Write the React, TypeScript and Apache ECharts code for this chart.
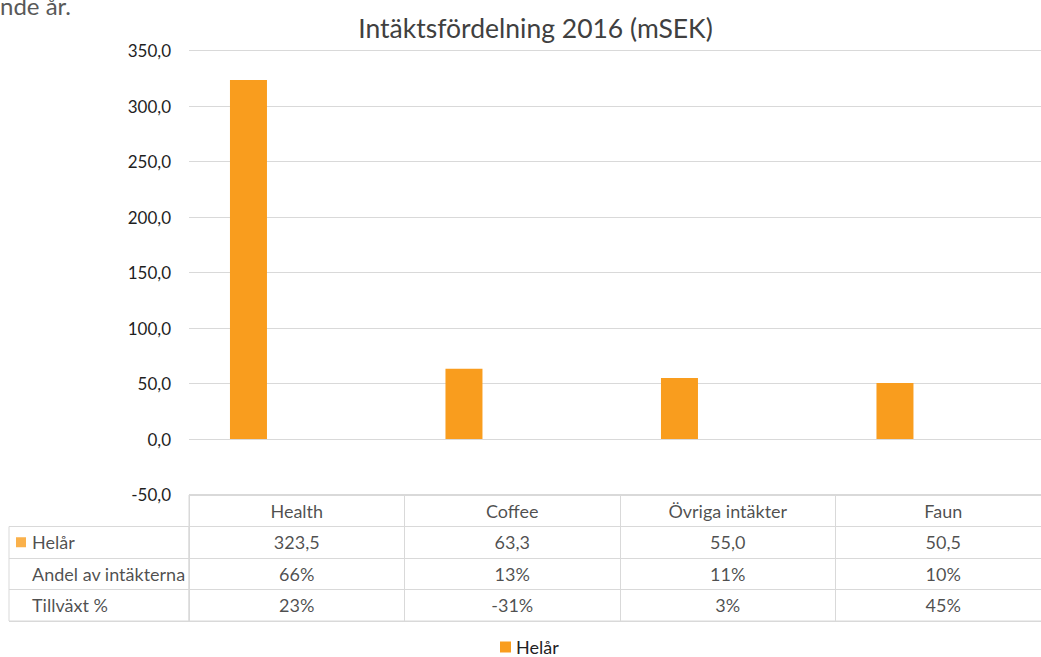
import React, { useEffect, useRef } from 'react';
import * as echarts from 'echarts';

const titleText = 'Intäktsfördelning 2016 (mSEK)';
const fragmentText = 'nde år.';
const categories = ['Health', 'Coffee', 'Övriga intäkter', 'Faun'];
const seriesName = 'Helår';
const helar = [323.5, 63.3, 55.0, 50.5];
const andel = ['66%', '13%', '11%', '10%'];
const tillvaxt = ['23%', '-31%', '3%', '45%'];
const rowLabels = ['Helår', 'Andel av intäkterna', 'Tillväxt %'];
const headRow = 'head';
const yMin = -50;
const yMax = 350;
const yInterval = 50;

const FONT = 'Lato, "Open Sans", sans-serif';
const TXT = '#1f1f1f';
const LINE = '#d9d9d9';
const ORANGE = '#F99D1E';

const fmt = (v: number) => v.toFixed(1).replace('.', ',');

export default function App() {
  const ref = useRef<HTMLDivElement>(null);
  useEffect(() => {
    document.body.style.margin = '0';
    document.body.style.overflow = 'hidden';
    if (!ref.current) return;
    const chart = echarts.init(ref.current, null, { renderer: 'svg' });

    const tableRows = [headRow, ...rowLabels];
    const cells: any[] = [];
    categories.forEach((c, i) => {
      cells.push([c, headRow, c]);
      cells.push([c, rowLabels[0], fmt(helar[i])]);
      cells.push([c, rowLabels[1], andel[i]]);
      cells.push([c, rowLabels[2], tillvaxt[i]]);
    });

    const option: any = {
      animation: false,
      backgroundColor: '#ffffff',
      textStyle: { fontFamily: FONT },
      graphic: [
        {
          type: 'text',
          style: { text: fragmentText, x: 0, y: 5, verticalAlign: 'middle', font: '24px ' + FONT, fill: '#595959' },
        },
        {
          type: 'text',
          style: { text: titleText, x: 535.5, y: 27.5, textAlign: 'center', verticalAlign: 'middle', font: '26.5px ' + FONT, fill: '#404040' },
        },
      ],
      legend: {
        data: [seriesName],
        left: 500,
        top: 638,
        padding: 0,
        icon: 'rect',
        itemWidth: 11,
        itemHeight: 11,
        itemGap: 5,
        textStyle: { fontSize: 18, color: TXT, fontFamily: FONT },
      },
      grid: [
        { left: 189, width: 862, top: 50.7, height: 443.8, outerBoundsMode: 'none', containLabel: false },
        { left: 189, width: 862, top: 495, height: 126, show: true, borderColor: LINE, borderWidth: 1, outerBoundsMode: 'none', containLabel: false },
        { left: 9, width: 180, top: 526.5, height: 94.5, show: true, borderColor: LINE, borderWidth: 1, outerBoundsMode: 'none', containLabel: false },
      ],
      xAxis: [
        { type: 'category', gridIndex: 0, data: categories, axisLine: { show: false }, axisTick: { show: false }, axisLabel: { show: false } },
        {
          type: 'category', gridIndex: 1, data: categories,
          axisLine: { show: false }, axisTick: { show: false }, axisLabel: { show: false },
          splitLine: { show: true, interval: 0, lineStyle: { color: LINE, width: 1 } },
        },
        { type: 'value', gridIndex: 2, min: 0, max: 1, show: false },
      ],
      yAxis: [
        {
          type: 'value', gridIndex: 0, min: yMin, max: yMax, interval: yInterval,
          axisLine: { show: false }, axisTick: { show: false },
          axisLabel: { formatter: (v: number) => fmt(v), color: TXT, fontSize: 17, margin: 18, fontFamily: FONT },
          splitLine: { show: true, lineStyle: { color: LINE, width: 1 } },
        },
        {
          type: 'category', gridIndex: 1, data: tableRows, inverse: true,
          axisLine: { show: false }, axisTick: { show: false }, axisLabel: { show: false },
          splitLine: { show: true, interval: 0, lineStyle: { color: LINE, width: 1 } },
        },
        {
          type: 'category', gridIndex: 2, data: rowLabels, inverse: true,
          axisLine: { show: false }, axisTick: { show: false }, axisLabel: { show: false },
          splitLine: { show: true, interval: 0, lineStyle: { color: LINE, width: 1 } },
        },
      ],
      series: [
        {
          name: seriesName, type: 'bar', xAxisIndex: 0, yAxisIndex: 0,
          data: helar, barWidth: 37, barGap: '161%',
          itemStyle: { color: ORANGE },
        },
        {
          name: 'placeholder', type: 'bar', xAxisIndex: 0, yAxisIndex: 0,
          data: categories.map(() => null), barWidth: 37,
          itemStyle: { color: 'transparent' }, silent: true,
        },
        {
          type: 'scatter', xAxisIndex: 1, yAxisIndex: 1, symbolSize: 0, silent: true,
          data: cells,
          label: {
            show: true, position: 'inside', formatter: (p: any) => p.value[2],
            color: TXT, fontSize: 18, fontFamily: FONT,
          },
        },
        {
          type: 'scatter', xAxisIndex: 2, yAxisIndex: 2, symbolSize: 0, silent: true,
          data: rowLabels.map((r) => [0, r]),
          label: {
            show: true, position: 'right', distance: 7,
            formatter: (p: any) => (p.dataIndex === 0 ? '{m|}{t|' + p.value[1] + '}' : '{u|' + p.value[1] + '}'),
            rich: {
              m: { width: 10, height: 10, backgroundColor: ORANGE, verticalAlign: 'middle' },
              t: { padding: [0, 0, 0, 6], fontSize: 18, color: TXT, fontFamily: FONT },
              u: { padding: [0, 0, 0, 16], fontSize: 18, color: TXT, fontFamily: FONT },
            },
          },
        },
      ],
    };
    chart.setOption(option);
    return () => chart.dispose();
  }, []);
  return <div ref={ref} style={{ width: 1060, height: 657 }} />;
}
